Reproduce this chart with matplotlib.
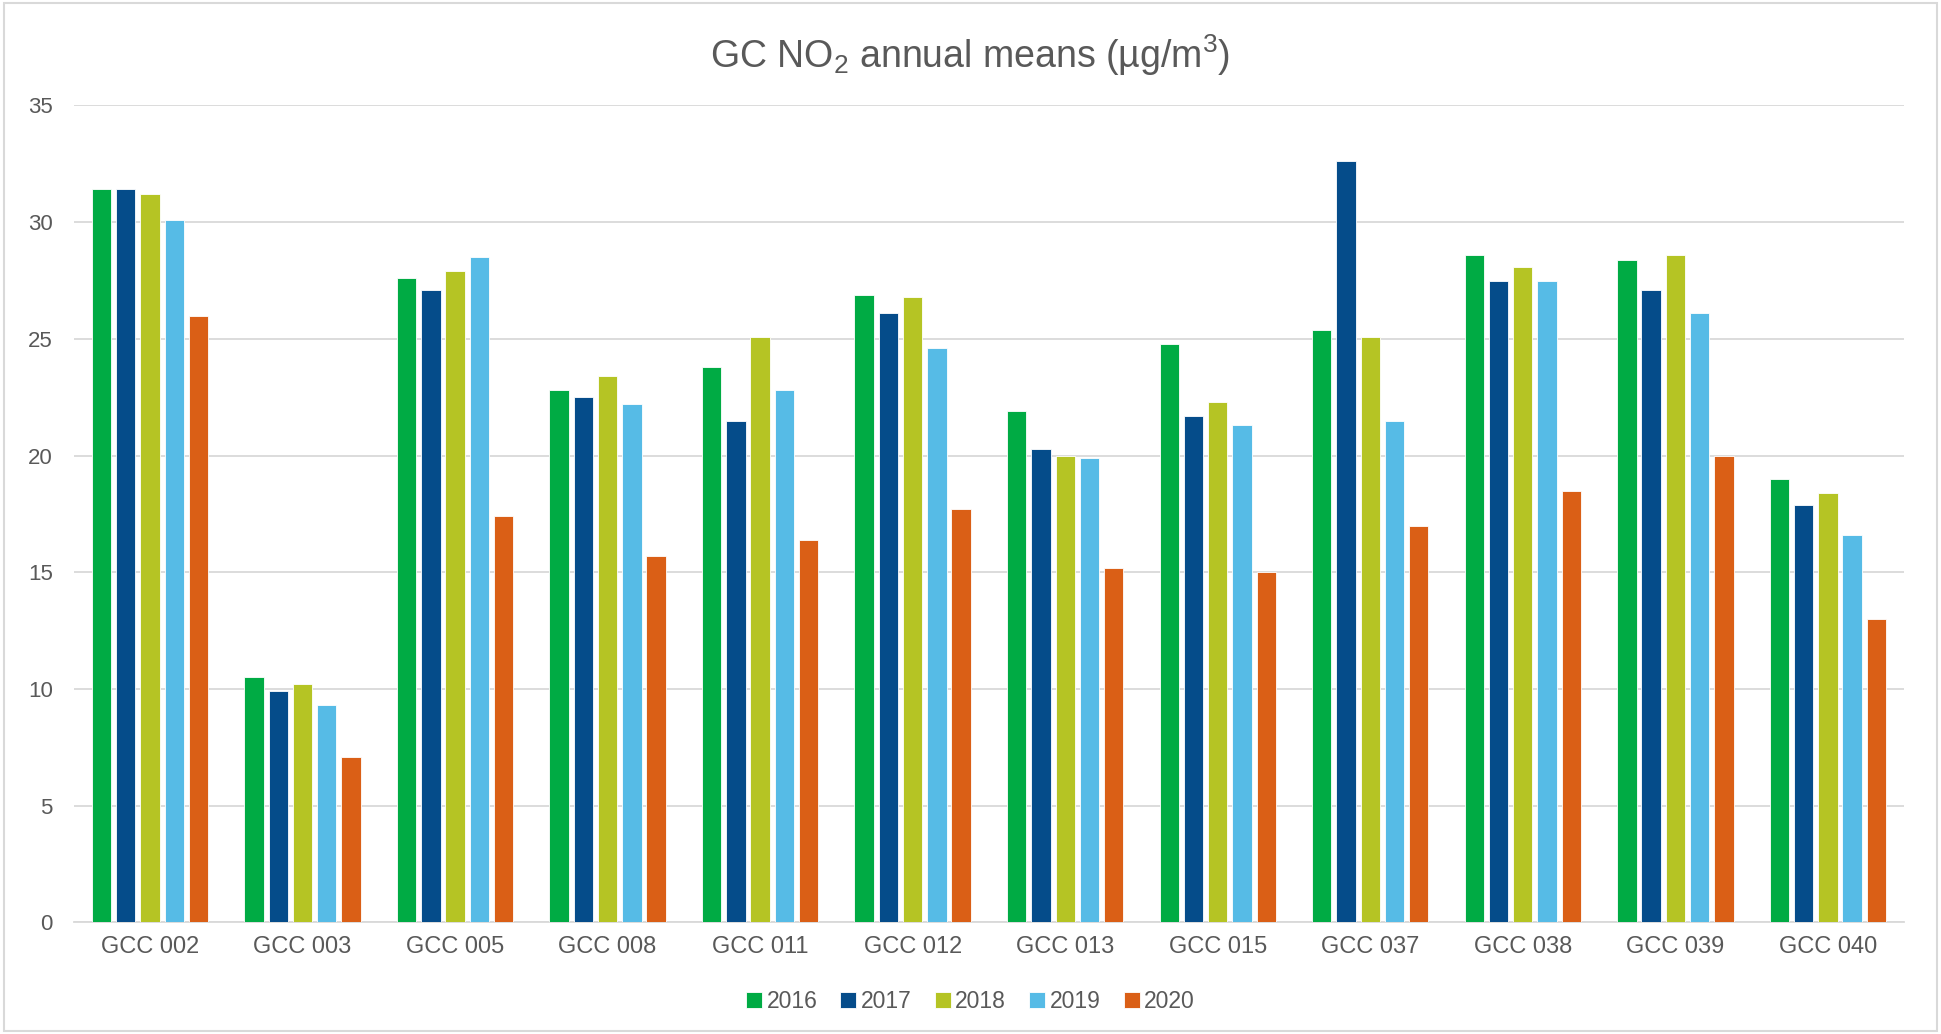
import numpy as np
import matplotlib
matplotlib.use('Agg')
import matplotlib.pyplot as plt
from matplotlib.patches import Rectangle

plt.rcParams['font.family'] = ['Liberation Sans', 'DejaVu Sans']
plt.rcParams['mathtext.default'] = 'regular'

# data
sites = ['GCC 002', 'GCC 003', 'GCC 005', 'GCC 008', 'GCC 011', 'GCC 012',
         'GCC 013', 'GCC 015', 'GCC 037', 'GCC 038', 'GCC 039', 'GCC 040']
years = ['2016', '2017', '2018', '2019', '2020']
y2016 = [31.4, 10.5, 27.6, 22.8, 23.8, 26.9, 21.9, 24.8, 25.4, 28.6, 28.4, 19.0]
y2017 = [31.4, 9.9, 27.1, 22.5, 21.5, 26.1, 20.3, 21.7, 32.6, 27.5, 27.1, 17.9]
y2018 = [31.2, 10.2, 27.9, 23.4, 25.1, 26.8, 20.0, 22.3, 25.1, 28.1, 28.6, 18.4]
y2019 = [30.1, 9.3, 28.5, 22.2, 22.8, 24.6, 19.9, 21.3, 21.5, 27.5, 26.1, 16.6]
y2020 = [26.0, 7.1, 17.4, 15.7, 16.4, 17.7, 15.2, 15.0, 17.0, 18.5, 20.0, 13.0]
series = [y2016, y2017, y2018, y2019, y2020]
colours = ['#00AB44', '#054C8A', '#B5C424', '#56BBE6', '#DA5F16']

text_col = '#595959'
grid_col = '#D9D9D9'

fig = plt.figure(figsize=(19.41, 10.34), dpi=100)
ax = fig.add_axes([0.038, 0.108, 0.943, 0.790])

x = np.arange(len(sites))
step = 0.159
width = 0.127
for i, (vals, c, yr) in enumerate(zip(series, colours, years)):
    ax.bar(x + (i - 2) * step, vals, width, color=c, label=yr,
           edgecolor='white', linewidth=0.6, zorder=3)

ax.set_xlim(-0.5, len(sites) - 0.5)
ax.set_ylim(0, 35)
ax.set_yticks(range(0, 36, 5))
ax.set_xticks(x)
ax.set_xticklabels(sites)
ax.tick_params(axis='both', length=0, colors=text_col)
ax.tick_params(axis='y', pad=15, labelsize=16)
ax.tick_params(axis='x', pad=10, labelsize=17)
ax.yaxis.grid(True, color=grid_col, linewidth=1.3, zorder=0)
for s in ['top', 'right', 'left']:
    ax.spines[s].set_visible(False)
ax.spines['bottom'].set_color(grid_col)
ax.spines['bottom'].set_linewidth(1.3)

fig.text(0.5, 0.947, 'GC NO$_2$ annual means (µg/m$^3$)', ha='center', va='center',
         fontsize=27, color=text_col)

leg = fig.legend(loc='center', bbox_to_anchor=(0.5, 0.031), ncol=5, frameon=False,
                 fontsize=16.5, handlelength=0.7, handleheight=0.7, handletextpad=0.2,
                 columnspacing=1.0)
for t in leg.get_texts():
    t.set_color(text_col)

# light chart border like the spreadsheet export
fig.patches.append(Rectangle((0.002, 0.003), 0.996, 0.994, transform=fig.transFigure,
                             fill=False, edgecolor=grid_col, linewidth=1.5))

fig.savefig('out.png', dpi=100)
